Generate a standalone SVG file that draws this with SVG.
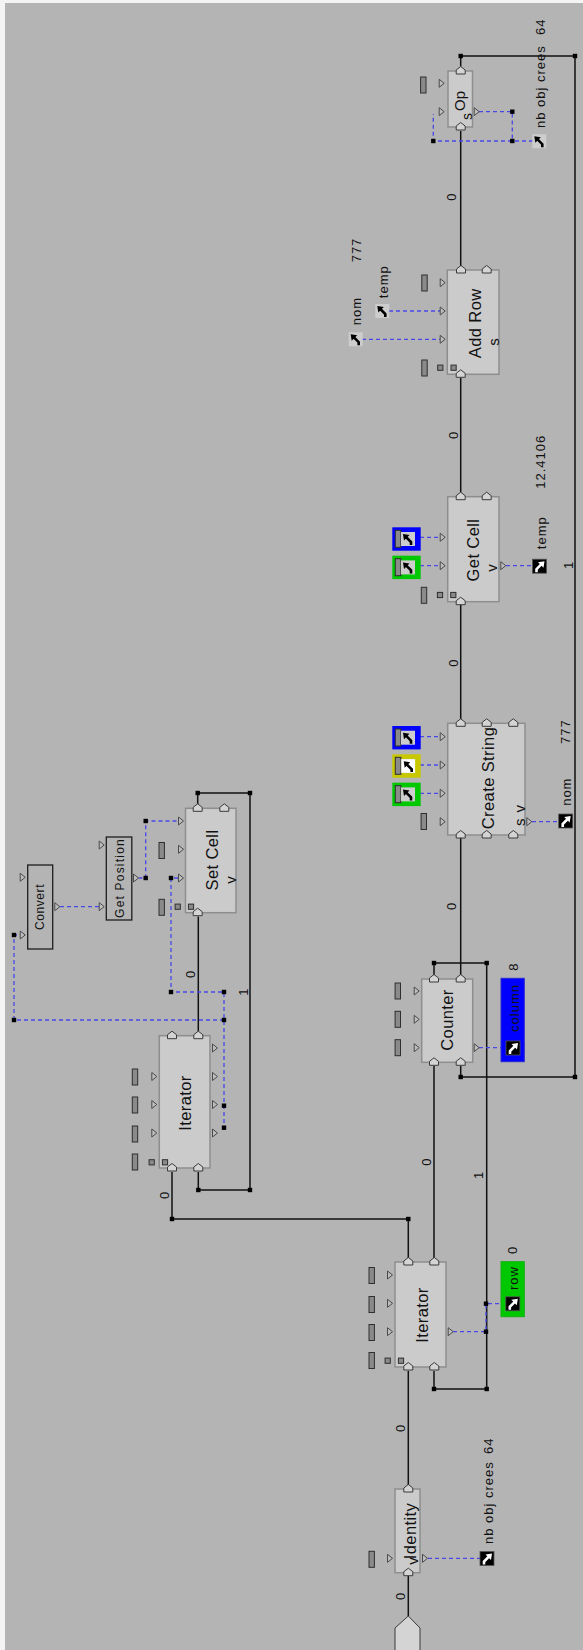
<svg xmlns="http://www.w3.org/2000/svg" width="583" height="1650" viewBox="0 0 583 1650">
<style>
.bg{fill:#b4b4b4}
.node{fill:#cbcbcb;stroke:#8e8e8e;stroke-width:1.5}
.nodeo{fill:none;stroke:#1e1e1e;stroke-width:1.3}
.wire{fill:none;stroke:#111;stroke-width:1.5}
.dash{fill:none;stroke:#4848e8;stroke-width:1.3;stroke-dasharray:4 3}
.port{fill:#d4d4d4;stroke:#3a3a3a;stroke-width:1}
.tri{fill:#bdbdbd;stroke:#4a4a4a;stroke-width:1}
.gr{fill:#8a8a8a;stroke:#2e2e2e;stroke-width:1}
text{font-family:"Liberation Sans",Arial,sans-serif;fill:#111;text-anchor:middle;dominant-baseline:central}
.t16{font-size:16.5px;letter-spacing:0.4px}
.t13{font-size:13px;letter-spacing:1px}
.t11{font-size:12px;letter-spacing:0.6px}
.st{text-anchor:start}
</style>
<defs>
<path id="port" class="port" d="M0,-4.5 L4.5,-1 L4.5,3 L-4.5,3 L-4.5,-1 Z"/>
<path id="tri" class="tri" d="M-2.5,-4 L2.5,0 L-2.5,4 Z"/>
<rect id="dot" x="-2.2" y="-2.2" width="4.4" height="4.4" fill="#000"/>
<rect id="gr" class="gr" x="-2.7" y="-8" width="5.4" height="16"/>
<rect id="sq" class="gr" x="-2.6" y="-2.6" width="5.2" height="5.2"/>
<g id="iconL"><rect x="-7" y="-7" width="14" height="14" fill="#cdcdcd"/><polygon points="-5,-5 1.5,-4 -4,1.5" fill="#000"/><path d="M-2,-2 L3,3 L3,6" stroke="#000" stroke-width="2.6" fill="none"/></g>
<g id="iconD"><rect x="-7" y="-7" width="14" height="14" fill="#000" stroke="#555" stroke-width="0.8"/><polygon points="5,-5 -1.5,-4 4,1.5" fill="#fff"/><path d="M2,-2 L-3,3 L-3,6" stroke="#fff" stroke-width="2.6" fill="none"/></g>
<g id="cbin"><rect class="gr" x="3" y="3" width="5.6" height="17"/><use href="#iconL" x="15.7" y="11.7"/></g>
</defs>
<rect x="0" y="0" width="583" height="1650" fill="#f4f4f4"/>
<rect class="bg" x="5" y="3" width="578" height="1647"/>

<g id="connectors">
<path class="wire" d="M460.7,66.5 V56 H575 V1077 H460.7 V1066"/>
<path class="wire" d="M460.7,131 V266"/>
<path class="wire" d="M460.7,378 V492.5"/>
<path class="wire" d="M460.7,605 V719"/>
<path class="wire" d="M460.7,838 V975"/>
<path class="wire" d="M434,975 V963 H486.7 V1389 H434 V1371"/>
<path class="wire" d="M434,1066 V1258"/>
<path class="wire" d="M408.3,1258 V1219 H172 V1172"/>
<path class="wire" d="M408.3,1371 V1485"/>
<path class="wire" d="M408.3,1576 V1616"/>
<path class="wire" d="M198.3,1031.5 V916.5"/>
<path class="wire" d="M198.3,1172 V1190 H250 V793 H197.7 V804"/>
<path class="dash" d="M479,111.7 H512.3 V141"/>
<path class="dash" d="M533,141 H433.3 V114"/>
<path class="dash" d="M362,339.3 H440"/>
<path class="dash" d="M389,311 H440"/>
<path class="dash" d="M413,537.3 H440"/>
<path class="dash" d="M413,565.7 H440"/>
<path class="dash" d="M506,565.7 H533"/>
<path class="dash" d="M413,736.7 H440"/>
<path class="dash" d="M413,765 H440"/>
<path class="dash" d="M413,793.3 H440"/>
<path class="dash" d="M532,821.7 H559"/>
<path class="dash" d="M479,1047.7 H506"/>
<path class="dash" d="M453,1331.7 H486 V1303.7 H506"/>
<path class="dash" d="M428,1558.3 H481"/>
<path class="dash" d="M138.5,878 H145.7 V821 H178"/>
<path class="dash" d="M178,878 H171 V992 H224 V1133"/>
<path class="dash" d="M224,1020 H14 V935 H20"/>
<path class="dash" d="M60,906.7 H99"/>
<use href="#dot" x="460.7" y="56"/><use href="#dot" x="575" y="56"/><use href="#dot" x="575" y="1077"/><use href="#dot" x="460.7" y="1077"/>
<use href="#dot" x="434" y="963"/><use href="#dot" x="486.7" y="963"/><use href="#dot" x="486.7" y="1389"/><use href="#dot" x="434" y="1389"/>
<use href="#dot" x="408.3" y="1219"/><use href="#dot" x="172" y="1219"/><use href="#dot" x="198.3" y="1190"/><use href="#dot" x="250" y="1190"/>
<use href="#dot" x="250" y="793"/><use href="#dot" x="197.7" y="793"/>
<use href="#dot" x="512.3" y="111.7"/><use href="#dot" x="512.3" y="141"/><use href="#dot" x="433.3" y="141"/>
<use href="#dot" x="486" y="1331.7"/><use href="#dot" x="486" y="1303.7"/>
<use href="#dot" x="145.7" y="878"/><use href="#dot" x="145.7" y="821"/><use href="#dot" x="171" y="878"/><use href="#dot" x="171" y="992"/>
<use href="#dot" x="224" y="992"/><use href="#dot" x="224" y="1020"/><use href="#dot" x="224" y="1105.7"/><use href="#dot" x="224" y="1127.7"/>
<use href="#dot" x="14" y="1020"/><use href="#dot" x="14" y="935"/>
<text class="t13" transform="translate(451.7,196.7) rotate(-90)">0</text>
<text class="t13" transform="translate(453.3,435) rotate(-90)">0</text>
<text class="t13" transform="translate(453.3,662.7) rotate(-90)">0</text>
<text class="t13" transform="translate(451.7,906) rotate(-90)">0</text>
<text class="t13" transform="translate(426.7,1161.7) rotate(-90)">0</text>
<text class="t13" transform="translate(400,1428) rotate(-90)">0</text>
<text class="t13" transform="translate(400,1596) rotate(-90)">0</text>
<text class="t13" transform="translate(190,974) rotate(-90)">0</text>
<text class="t13" transform="translate(164,1195) rotate(-90)">0</text>
<text class="t13" transform="translate(568,565) rotate(-90)">1</text>
<text class="t13" transform="translate(478,1175) rotate(-90)">1</text>
<text class="t13" transform="translate(243,991.7) rotate(-90)">1</text>
</g>

<g id="op">
<rect class="node" x="448" y="71" width="24.5" height="56"/>
<use href="#port" x="460.7" y="71"/><use href="#port" x="460.7" y="127"/>
<use href="#tri" x="441.7" y="83.3"/><use href="#tri" x="441.7" y="111.7"/><use href="#tri" x="476.7" y="111.7"/>
<use href="#gr" x="423.3" y="85"/>
<text transform="translate(459.5,101) rotate(-90)" style="font-size:15px">Op</text>
<text transform="translate(466.5,116.5) rotate(-90)" style="font-size:14px">s</text>
</g>
<g id="nbobj-top">
<use href="#iconL" x="539.3" y="141.2"/>
<text class="t13 st" transform="translate(540,128) rotate(-90)">nb obj crees</text>
<text class="t13 st" transform="translate(540,35) rotate(-90)">64</text>
</g>

<g id="addrow">
<rect class="node" x="447.3" y="270" width="51.7" height="104.3"/>
<use href="#port" x="461" y="270"/><use href="#port" x="486.7" y="270"/><use href="#port" x="460.7" y="374.3"/>
<use href="#tri" x="442.7" y="282.7"/><use href="#tri" x="442.7" y="311"/><use href="#tri" x="442.7" y="339.3"/>
<use href="#gr" x="424.5" y="283"/><use href="#gr" x="424.5" y="368"/>
<use href="#sq" x="440.3" y="367.7"/><use href="#sq" x="453.6" y="367.7"/>
<text class="t16" transform="translate(475,323.3) rotate(-90)">Add Row</text>
<text transform="translate(493.3,342) rotate(-90)" style="font-size:15px">s</text>
</g>
<g id="addrow-temp">
<use href="#iconL" x="382.3" y="311"/>
<text class="t13" transform="translate(383.3,281.7) rotate(-90)">temp</text>
</g>
<g id="addrow-nom">
<use href="#iconL" x="355.7" y="339.2"/>
<text class="t13" transform="translate(356.7,311) rotate(-90)">nom</text>
<text class="t13" transform="translate(356.7,250) rotate(-90)">777</text>
</g>

<g id="getcell">
<rect class="node" x="447.7" y="496.7" width="51.3" height="105"/>
<use href="#port" x="460.7" y="496.7"/><use href="#port" x="486.7" y="496.7"/><use href="#port" x="460.7" y="601.7"/>
<use href="#tri" x="442.7" y="537.3"/><use href="#tri" x="442.7" y="565.7"/><use href="#tri" x="503.3" y="565.7"/>
<use href="#gr" x="424" y="595.3"/>
<use href="#sq" x="440" y="595"/><use href="#sq" x="453.3" y="595"/>
<text class="t16" transform="translate(473.3,550) rotate(-90)">Get Cell</text>
<text transform="translate(491.7,568) rotate(-90)" style="font-size:15px">v</text>
</g>
<g id="getcell-blue"><rect x="392.3" y="527.3" width="28.4" height="23.4" fill="#0000ff"/><use href="#cbin" x="392.3" y="527.3"/></g>
<g id="getcell-green"><rect x="392.3" y="555.7" width="28.4" height="23.4" fill="#00c800"/><use href="#cbin" x="392.3" y="555.7"/></g>
<g id="getcell-temp">
<use href="#iconD" x="539.5" y="566.2"/>
<text class="t13" transform="translate(541.7,532.7) rotate(-90)">temp</text>
<text class="t13" transform="translate(540,461.7) rotate(-90)">12.4106</text>
</g>

<g id="createstring">
<rect class="node" x="447.7" y="723.3" width="77.3" height="111.7"/>
<use href="#port" x="460.7" y="723.3"/><use href="#port" x="486.7" y="723.3"/><use href="#port" x="513.3" y="723.3"/>
<use href="#port" x="460.7" y="835"/><use href="#port" x="486.7" y="835"/><use href="#port" x="513.3" y="835"/>
<use href="#tri" x="442.7" y="736.7"/><use href="#tri" x="442.7" y="765"/><use href="#tri" x="442.7" y="793.3"/><use href="#tri" x="442.7" y="821.7"/>
<use href="#tri" x="529.3" y="821.7"/>
<use href="#gr" x="423.8" y="821.5"/>
<text class="t16" transform="translate(488.3,778) rotate(-90)">Create String</text>
<text transform="translate(519.3,815) rotate(-90)" style="font-size:15px;letter-spacing:1px">s v</text>
</g>
<g id="createstring-blue"><rect x="392.3" y="726" width="28.4" height="23.4" fill="#0000ff"/><use href="#cbin" x="392.3" y="726"/></g>
<g id="createstring-yellow"><rect x="392.3" y="754.3" width="28.4" height="23.4" fill="#c8c800"/><use href="#cbin" x="392.3" y="754.3"/><rect x="401.7" y="759.3" width="13.4" height="13.4" fill="#fff"/><polygon points="403.7,761.3 410.2,762.3 404.7,767.8" fill="#000"/><path d="M406.7,764.3 L411.7,769.3 L411.7,772" stroke="#000" stroke-width="2.6" fill="none"/></g>
<g id="createstring-green"><rect x="392.3" y="782.7" width="28.4" height="23.4" fill="#00c800"/><use href="#cbin" x="392.3" y="782.7"/></g>
<g id="createstring-nom">
<use href="#iconD" x="565.7" y="821"/>
<text class="t13" transform="translate(566.7,791.7) rotate(-90)">nom</text>
<text class="t13" transform="translate(565.7,731.7) rotate(-90)">777</text>
</g>

<g id="counter">
<rect class="node" x="421.7" y="979" width="51" height="83.3"/>
<use href="#port" x="434" y="979"/><use href="#port" x="460.7" y="979"/><use href="#port" x="434" y="1062.3"/><use href="#port" x="460.7" y="1062.3"/>
<use href="#tri" x="416.7" y="991"/><use href="#tri" x="416.7" y="1019.3"/><use href="#tri" x="416.7" y="1047.7"/><use href="#tri" x="476.7" y="1047.7"/>
<use href="#gr" x="397.8" y="991"/><use href="#gr" x="397.8" y="1019.3"/><use href="#gr" x="397.8" y="1047.7"/>
<text class="t16" transform="translate(447.3,1020) rotate(-90)">Counter</text>
</g>
<g id="column">
<rect x="501" y="978.3" width="23.3" height="83.4" fill="#0000ff" stroke="#2a2ad0" stroke-width="1"/>
<use href="#iconD" x="513" y="1048"/>
<text class="t13" transform="translate(514.3,1008) rotate(-90)">column</text>
<text class="t13" transform="translate(513.3,966.7) rotate(-90)">8</text>
</g>

<g id="iterator2">
<rect class="node" x="395" y="1262" width="51" height="105"/>
<use href="#port" x="408.3" y="1262"/><use href="#port" x="434.3" y="1262"/><use href="#port" x="408.3" y="1367"/><use href="#port" x="434.3" y="1367"/>
<use href="#tri" x="390" y="1275"/><use href="#tri" x="390" y="1303.3"/><use href="#tri" x="390" y="1331.7"/><use href="#tri" x="450.7" y="1331.7"/>
<use href="#gr" x="371.7" y="1275.5"/><use href="#gr" x="371.7" y="1304.5"/><use href="#gr" x="371.7" y="1332.5"/><use href="#gr" x="371.7" y="1360.5"/>
<use href="#sq" x="387.7" y="1360.7"/><use href="#sq" x="401" y="1360.7"/>
<text class="t16" transform="translate(421.7,1315) rotate(-90)">Iterator</text>
</g>
<g id="row">
<rect x="501" y="1261.7" width="23.3" height="55" fill="#00c800" stroke="#10b010" stroke-width="1"/>
<use href="#iconD" x="512.8" y="1303.8"/>
<text class="t13" transform="translate(513,1278) rotate(-90)">row</text>
<text class="t13" transform="translate(512.7,1250) rotate(-90)">0</text>
</g>

<g id="identity">
<rect class="node" x="395" y="1489" width="25" height="83.7"/>
<use href="#port" x="408.3" y="1489"/><use href="#port" x="408.3" y="1572.7"/>
<use href="#tri" x="390" y="1558.3"/><use href="#tri" x="425" y="1558.3"/>
<use href="#gr" x="371.7" y="1559.3"/>
<text class="t16" transform="translate(410,1531) rotate(-90)">Identity</text>
<text transform="translate(412.5,1561) rotate(-90)" style="font-size:15px">v</text>
</g>
<g id="identity-nbobj">
<use href="#iconD" x="487" y="1558.5"/>
<text class="t13 st" transform="translate(488,1544) rotate(-90)">nb obj crees</text>
<text class="t13 st" transform="translate(488,1454) rotate(-90)">64</text>
</g>
<g id="input">
<polygon class="port" points="408.3,1616 420,1628 420,1652 395,1652 395,1628"/>
</g>

<g id="iterator1">
<rect class="node" x="159.3" y="1035.7" width="50.7" height="132.3"/>
<use href="#port" x="172" y="1035.7"/><use href="#port" x="198.3" y="1035.7"/><use href="#port" x="172" y="1168"/><use href="#port" x="198.3" y="1168"/>
<use href="#tri" x="154.3" y="1076.5"/><use href="#tri" x="154.3" y="1104.5"/><use href="#tri" x="154.3" y="1133"/>
<use href="#tri" x="215" y="1048"/><use href="#tri" x="215" y="1076.5"/><use href="#tri" x="215" y="1104.5"/><use href="#tri" x="215" y="1133"/>
<use href="#gr" x="135" y="1077"/><use href="#gr" x="135" y="1105"/><use href="#gr" x="135" y="1134"/><use href="#gr" x="135" y="1162"/>
<use href="#sq" x="151.7" y="1162.3"/><use href="#sq" x="165" y="1162.3"/>
<text class="t16" transform="translate(185,1103) rotate(-90)">Iterator</text>
</g>

<g id="setcell">
<rect class="node" x="185.5" y="808.3" width="50.5" height="104.4"/>
<use href="#port" x="197.7" y="808.3"/><use href="#port" x="224.3" y="808.3"/><use href="#port" x="197.7" y="912.7"/>
<use href="#tri" x="181" y="821"/><use href="#tri" x="181" y="849.3"/><use href="#tri" x="181" y="878"/>
<use href="#gr" x="161.7" y="850.5"/><use href="#gr" x="161.7" y="907.3"/>
<use href="#sq" x="177.7" y="906.7"/><use href="#sq" x="191" y="906.7"/>
<text class="t16" transform="translate(211.7,860) rotate(-90)">Set Cell</text>
<text transform="translate(230,880) rotate(-90)" style="font-size:15px">v</text>
</g>

<g id="getposition">
<rect class="nodeo" x="106.3" y="837" width="25.5" height="83"/>
<use href="#tri" x="101.7" y="845"/><use href="#tri" x="101.7" y="906.7"/><use href="#tri" x="136" y="878"/>
<text transform="translate(120,878) rotate(-90)" style="font-size:12px;letter-spacing:1.2px">Get Position</text>
</g>

<g id="convert">
<rect class="nodeo" x="27.7" y="865" width="25" height="84"/>
<use href="#tri" x="22.7" y="877.3"/><use href="#tri" x="22.7" y="935"/><use href="#tri" x="57.3" y="906.7"/>
<text class="t11" transform="translate(40,907) rotate(-90)">Convert</text>
</g>
</svg>
